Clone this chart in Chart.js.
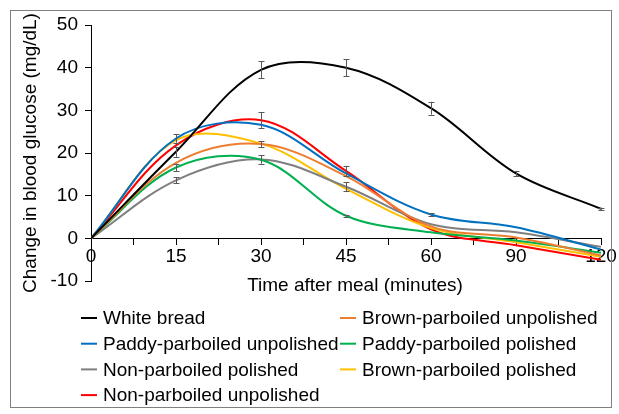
<!DOCTYPE html>
<html>
<head>
<meta charset="utf-8">
<script src="https://cdn.jsdelivr.net/npm/chart.js@4/dist/chart.umd.min.js"></script>
<style>
  html, body { margin: 0; padding: 0; background: #ffffff; }
  #wrap { position: relative; width: 619px; height: 414px; }
  #frame { position: absolute; left: 10px; top: 10px; width: 602px; height: 398px; border: 1px solid #7f7f7f; box-sizing: border-box; pointer-events: none; }
</style>
</head>
<body>
<div id="wrap">
  <canvas id="c" width="619" height="414"></canvas>
  <div id="frame"></div>
</div>
<script>
// Categories (minutes after meal)
const timeLabels = ['0', '15', '30', '45', '60', '90', '120'];
const yTicks = [-10, 0, 10, 20, 30, 40, 50];

// Series values (change in blood glucose, mg/dL)
const whiteBread            = [0, 20.3, 39.5, 40.0, 30.5, 15.2, 6.9];
const brownParbUnpolished   = [0, 17.7, 22.1, 14.6, 2.8, 0.2, -4.0];
const paddyParbUnpolished   = [0, 23.4, 26.6, 15.2, 5.6, 2.6, -2.6];
const paddyParbPolished     = [0, 16.6, 18.4, 5.3, 1.4, -0.5, -3.4];
const nonParbPolished       = [0, 13.6, 18.5, 12.1, 3.3, 1.4, -2.0];
const brownParbPolished     = [0, 23.0, 22.2, 11.6, 2.4, -0.9, -4.3];
const nonParbUnpolished     = [0, 21.8, 27.7, 15.8, 2.1, -1.6, -5.0];

// Error bars (± mg/dL)
const errWhiteBread          = [0, 1.2, 2.0, 2.0, 1.5, 0.6, 0.3];
const errBrownParbUnpolished = [0, 0, 0.7, 0, 0, 0, 0];
const errPaddyParbUnpolished = [0, 1.0, 0, 0, 0.3, 0, 0];
const errPaddyParbPolished   = [0, 0.9, 0, 0.2, 0, 0, 0];
const errNonParbPolished     = [0, 0.7, 1.0, 1.0, 0, 0, 0];
const errBrownParbPolished   = [0, 0, 0, 0, 0, 0, 0];
const errNonParbUnpolished   = [0, 0, 1.8, 1.2, 0, 0, 0];

const seriesNames = ['White bread', 'Brown-parboiled unpolished', 'Paddy-parboiled unpolished',
  'Paddy-parboiled polished', 'Non-parboiled polished', 'Brown-parboiled polished', 'Non-parboiled unpolished'];
const seriesValues = [whiteBread, brownParbUnpolished, paddyParbUnpolished, paddyParbPolished,
  nonParbPolished, brownParbPolished, nonParbUnpolished];
const seriesErrors = [errWhiteBread, errBrownParbUnpolished, errPaddyParbUnpolished, errPaddyParbPolished,
  errNonParbPolished, errBrownParbPolished, errNonParbUnpolished];
const seriesColors = ['#000000', '#ED7D31', '#0070C0', '#00B050', '#7F7F7F', '#FFC000', '#FF0000'];

const FONT = 'Liberation Sans, Arial, sans-serif';
const FS = 19;

const datasets = seriesNames.map((name, i) => ({
  label: name,
  data: seriesValues[i].map((v, k) => ({ x: k, y: v })),
  borderColor: seriesColors[i],
  backgroundColor: seriesColors[i],
  borderWidth: 2,
  pointRadius: 0,
  tension: 0.35,
  fill: false
}));

const extras = {
  id: 'extras',
  afterDatasetsDraw(chart) {
    const ctx = chart.ctx;
    const xs = chart.scales.x, ys = chart.scales.y;
    ctx.save();
    ctx.strokeStyle = '#595959';
    ctx.lineWidth = 1;
    seriesValues.forEach((vals, i) => {
      vals.forEach((v, k) => {
        const e = seriesErrors[i][k];
        if (!e) return;
        const px = Math.round(xs.getPixelForValue(k)) + 0.5;
        const y1 = ys.getPixelForValue(v + e), y2 = ys.getPixelForValue(v - e);
        ctx.beginPath();
        ctx.moveTo(px, y1); ctx.lineTo(px, y2);
        ctx.moveTo(px - 3, Math.round(y1) + 0.5); ctx.lineTo(px + 3, Math.round(y1) + 0.5);
        ctx.moveTo(px - 3, Math.round(y2) + 0.5); ctx.lineTo(px + 3, Math.round(y2) + 0.5);
        ctx.stroke();
      });
    });
    ctx.restore();
  },
  afterDraw(chart) {
    const ctx = chart.ctx;
    const area = chart.chartArea;
    ctx.save();
    ctx.font = FS + 'px ' + FONT;
    ctx.fillStyle = '#000000';
    ctx.textAlign = 'center';
    ctx.textBaseline = 'middle';
    ctx.fillText('Time after meal (minutes)', (area.left + area.right) / 2 + 9, area.bottom + 5);
    ctx.textAlign = 'left';
    chart.data.datasets.forEach((ds, i) => {
      const col = i % 2, row = Math.floor(i / 2);
      const lx = col ? 340 : 81;
      const ty = 318 + row * 25.7;
      ctx.strokeStyle = ds.borderColor;
      ctx.lineWidth = 2;
      ctx.beginPath();
      ctx.moveTo(lx, ty); ctx.lineTo(lx + 16, ty);
      ctx.stroke();
      ctx.fillText(ds.label, lx + 22, ty + 1);
    });
    ctx.restore();
  }
};

new Chart(document.getElementById('c'), {
  type: 'line',
  data: { datasets },
  options: {
    responsive: false,
    animation: false,
    layout: { padding: { left: 0, top: 25, right: 18, bottom: 133 } },
    plugins: { legend: { display: false }, tooltip: { enabled: false }, title: { display: false } },
    scales: {
      x: {
        type: 'linear',
        position: { y: 0 },
        min: 0, max: timeLabels.length - 1,
        ticks: {
          stepSize: 0.5, autoSkip: false, maxRotation: 0, color: '#000', padding: 1,
          font: { family: FONT, size: FS },
          callback: (v) => Number.isInteger(v) ? timeLabels[v] : ''
        },
        afterBuildTicks: (s) => { const t = []; for (let k = 0; k <= (timeLabels.length - 1) * 2; k++) t.push({ value: k / 2 }); s.ticks = t; },
        grid: { drawOnChartArea: false, drawTicks: true, tickLength: 6, color: '#000' },
        border: { display: true, color: '#000', width: 1 }
      },
      y: {
        type: 'linear',
        position: 'left',
        min: yTicks[0], max: yTicks[yTicks.length - 1],
        afterBuildTicks: (s) => { s.ticks = yTicks.map(v => ({ value: v })); },
        afterFit: (s) => { s.width = 91; },
        ticks: { color: '#000', padding: 7, font: { family: FONT, size: FS } },
        grid: { drawOnChartArea: false, drawTicks: true, tickLength: 6, color: '#000' },
        border: { display: true, color: '#000', width: 1 },
        title: {
          display: true, text: 'Change in blood glucose (mg/dL)', color: '#000',
          font: { family: FONT, size: FS }, padding: { top: 19, bottom: 0 }
        }
      }
    }
  },
  plugins: [extras]
});
</script>
</body>
</html>
